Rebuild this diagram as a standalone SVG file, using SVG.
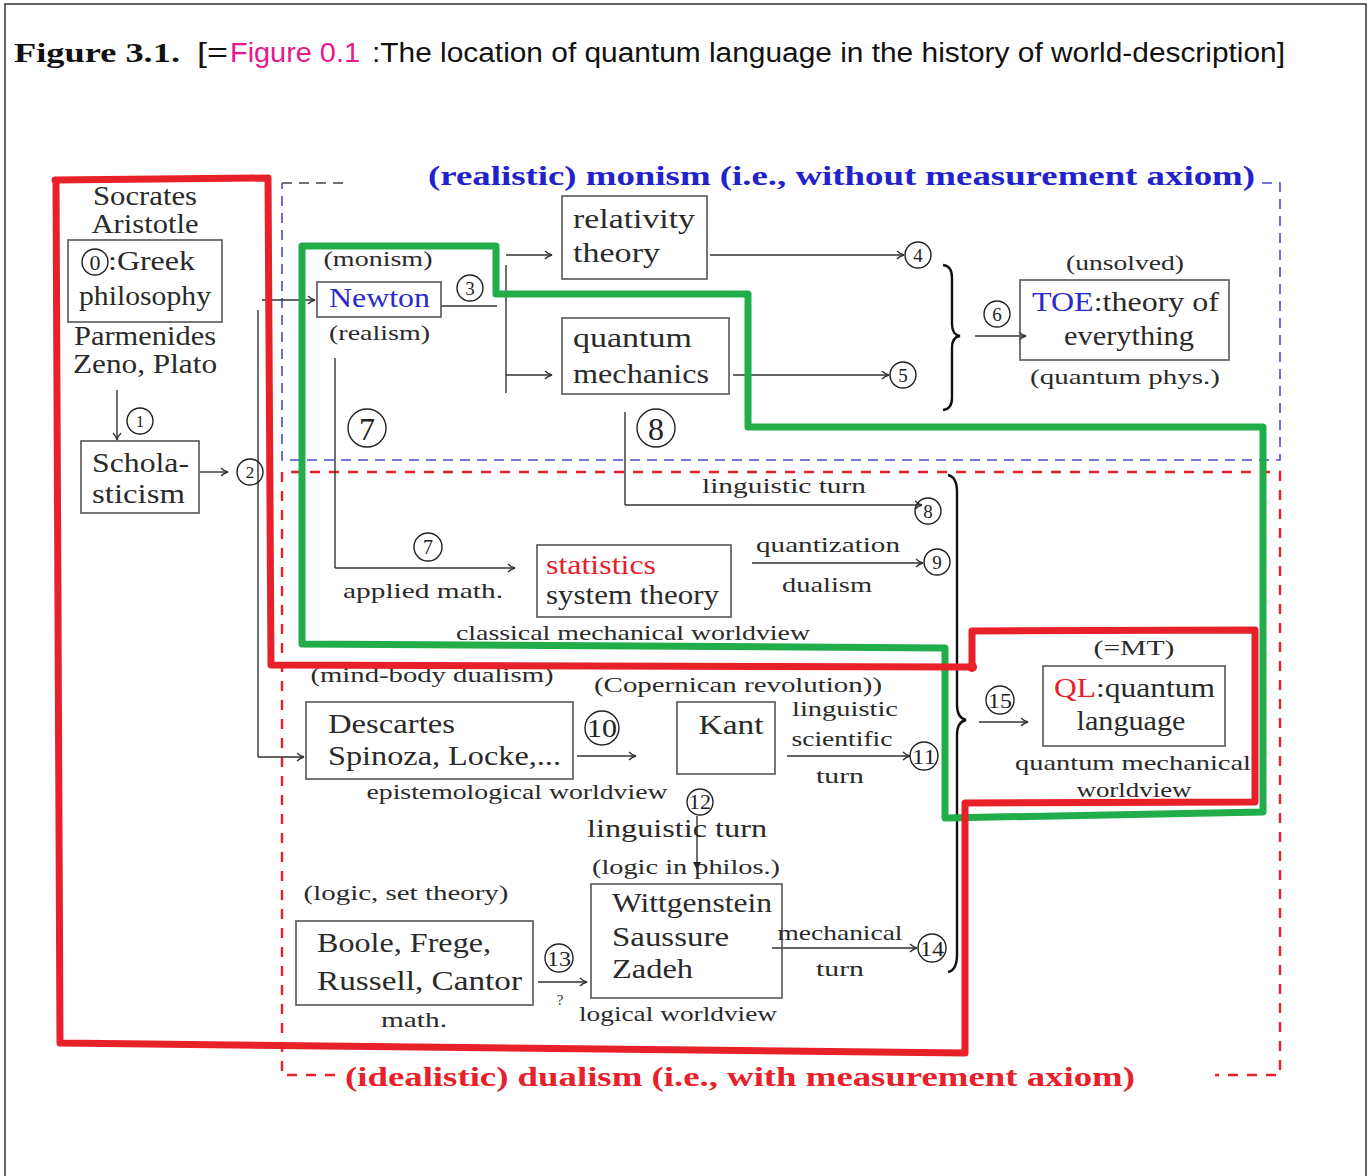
<svg xmlns="http://www.w3.org/2000/svg" width="1372" height="1176" viewBox="0 0 1372 1176">
<defs>
<style>
.t{font-family:"Liberation Serif","DejaVu Serif",serif;fill:#2a2a2a;}
.b{font-size:27px;}
.s{font-size:22px;}
.c{text-anchor:middle;}
.box{fill:none;stroke:#555;stroke-width:1.6;}
.ln{fill:none;stroke:#333;stroke-width:1.4;}
.ar{fill:none;stroke:#333;stroke-width:1.4;marker-end:url(#ah);}
.ci{fill:none;stroke:#222;stroke-width:1.4;}
.cn{font-family:"Liberation Serif","DejaVu Serif",serif;fill:#222;text-anchor:middle;}
.br{fill:none;stroke:#111;stroke-width:2.4;}
.hr{fill:none;stroke:#e8202a;stroke-width:7;stroke-linejoin:round;stroke-linecap:round;}
.hg{fill:none;stroke:#22ad4b;stroke-width:7;stroke-linejoin:round;stroke-linecap:round;}
</style>
<marker id="ah" markerWidth="10" markerHeight="10" refX="8" refY="5" orient="auto" markerUnits="userSpaceOnUse">
<path d="M1,1 Q4,4 8,5 Q4,6 1,9" fill="none" stroke="#333" stroke-width="1.3"/>
</marker>
<marker id="ahf" markerWidth="10" markerHeight="10" refX="8" refY="5" orient="auto" markerUnits="userSpaceOnUse">
<path d="M0,1 L8,5 L0,9 Z" fill="#222"/>
</marker>
</defs>
<rect x="0" y="0" width="1372" height="1176" fill="#fff"/>
<path d="M5,1176 V4 H1366 V1176" fill="none" stroke="#333" stroke-width="1.5"/>

<g id="title">
<text x="14" y="62" font-family="Liberation Serif,serif" font-weight="bold" font-size="28" fill="#111" textLength="166" lengthAdjust="spacingAndGlyphs">Figure 3.1.</text>
<text x="197" y="62" font-family="Liberation Sans,sans-serif" font-size="27" fill="#111" textLength="31" lengthAdjust="spacingAndGlyphs">[=</text>
<text x="230" y="62" font-family="Liberation Sans,sans-serif" font-size="27" fill="#e6198c" textLength="130" lengthAdjust="spacingAndGlyphs">Figure 0.1</text>
<text x="372" y="62" font-family="Liberation Sans,sans-serif" font-size="27" fill="#111" textLength="913" lengthAdjust="spacingAndGlyphs">:The location of quantum language in the history of world-description]</text>
</g>

<g id="region-monism">
<path d="M282,183 H345" fill="none" stroke="#444" stroke-width="1.6" stroke-dasharray="10,7"/>
<path d="M1262,183 H1280 V460 H282 V183" fill="none" stroke="#4a4ad0" stroke-width="1.6" stroke-dasharray="10,7"/>
<text x="428" y="185" font-family="Liberation Serif,serif" font-weight="bold" font-size="28" fill="#2222cc" textLength="827" lengthAdjust="spacingAndGlyphs">(realistic) monism (i.e., without measurement axiom)</text>
</g>

<g id="region-dualism">
<path d="M335,1075 H282 V472 H1280 V1075 H1215" fill="none" stroke="#e8202a" stroke-width="2.4" stroke-dasharray="10,9"/>
<text x="345" y="1086" font-family="Liberation Serif,serif" font-weight="bold" font-size="28" fill="#e8202a" textLength="790" lengthAdjust="spacingAndGlyphs">(idealistic) dualism (i.e., with measurement axiom)</text>
</g>

<g id="connectors">
<path class="ar" d="M117,390 V440"/>
<path class="ar" d="M200,472 H228"/>
<path class="ln" d="M258,310 V757"/>
<path class="ar" d="M262,300 H315"/>
<path class="ar" d="M258,757 H304"/>
<path class="ln" d="M441,306 H497"/>
<path class="ln" d="M506,265 V393"/>
<path class="ar" d="M506,255 H552"/>
<path class="ar" d="M506,375 H552"/>
<path class="ar" d="M710,255 H904"/>
<path class="ar" d="M733,375 H889"/>
<path class="br" d="M943,265 Q952,266 952,278 V324 Q952,335 960,336 Q952,337 952,348 V398 Q952,409 943,410"/>
<path class="ar" d="M975,336 H1026"/>
<path class="ln" d="M335,358 V568"/>
<path class="ar" d="M335,568 H515"/>
<path class="ln" d="M625,412 V505"/>
<path class="ar" d="M625,505 H922"/>
<path class="ar" d="M752,563 H923"/>
<path class="br" d="M948,475 Q957,477 957,492 V705 Q957,718 966,720 Q957,722 957,735 V955 Q957,970 948,972"/>
<path class="ar" d="M577,756 H636"/>
<path class="ar" d="M787,756 H910"/>
<path d="M697,816 V870" fill="none" stroke="#333" stroke-width="1.4" marker-end="url(#ahf)"/>
<path class="ar" d="M538,982 H587"/>
<path class="ar" d="M772,948 H917"/>
<path class="ar" d="M979,722 H1028"/>
</g>

<g id="greek-context">
<text class="t b c" x="145" y="205" textLength="104" lengthAdjust="spacingAndGlyphs">Socrates</text>
<text class="t b c" x="145" y="233" textLength="107" lengthAdjust="spacingAndGlyphs">Aristotle</text>
<text class="t b c" x="145" y="345" textLength="142" lengthAdjust="spacingAndGlyphs">Parmenides</text>
<text class="t b c" x="145" y="373" textLength="144" lengthAdjust="spacingAndGlyphs">Zeno, Plato</text>
</g>
<g id="node-greek">
<rect class="box" x="68" y="240" width="154" height="82"/>
<circle class="ci" cx="95" cy="262" r="13"/>
<text class="cn" x="95" y="270" font-size="22">0</text>
<text class="t b" x="108" y="270" textLength="87" lengthAdjust="spacingAndGlyphs">:Greek</text>
<text class="t b" x="79" y="305" textLength="132" lengthAdjust="spacingAndGlyphs">philosophy</text>
</g>
<g id="num1"><circle class="ci" cx="140" cy="421" r="13"/><text class="cn" x="140" y="427" font-size="16">1</text></g>
<g id="node-scholasticism">
<rect class="box" x="81" y="441" width="118" height="72"/>
<text class="t b" x="92" y="472" textLength="97" lengthAdjust="spacingAndGlyphs">Schola-</text>
<text class="t b" x="92" y="503" textLength="93" lengthAdjust="spacingAndGlyphs">sticism</text>
</g>
<g id="num2"><circle class="ci" cx="250" cy="472" r="13"/><text class="cn" x="250" y="478" font-size="17">2</text></g>

<g id="node-newton">
<text class="t s c" x="378" y="266" textLength="109" lengthAdjust="spacingAndGlyphs">(monism)</text>
<rect class="box" x="317" y="282" width="124" height="35"/>
<text class="t b" x="329" y="307" style="fill:#2a2acc" textLength="101" lengthAdjust="spacingAndGlyphs">Newton</text>
<text class="t s" x="329" y="340" textLength="101" lengthAdjust="spacingAndGlyphs">(realism)</text>
</g>
<g id="num3"><circle class="ci" cx="470" cy="288" r="13"/><text class="cn" x="470" y="295" font-size="19">3</text></g>

<g id="node-relativity">
<rect class="box" x="562" y="196" width="145" height="83"/>
<text class="t b" x="573" y="228" textLength="122" lengthAdjust="spacingAndGlyphs">relativity</text>
<text class="t b" x="573" y="262" textLength="87" lengthAdjust="spacingAndGlyphs">theory</text>
</g>
<g id="node-qm">
<rect class="box" x="562" y="318" width="167" height="76"/>
<text class="t b" x="573" y="347" textLength="119" lengthAdjust="spacingAndGlyphs">quantum</text>
<text class="t b" x="573" y="383" textLength="136" lengthAdjust="spacingAndGlyphs">mechanics</text>
</g>
<g id="num4"><circle class="ci" cx="918" cy="255" r="13"/><text class="cn" x="918" y="262" font-size="19">4</text></g>
<g id="num5"><circle class="ci" cx="903" cy="375" r="13"/><text class="cn" x="903" y="382" font-size="19">5</text></g>
<g id="num6"><circle class="ci" cx="997" cy="314" r="13"/><text class="cn" x="997" y="321" font-size="19">6</text></g>

<g id="node-toe">
<text class="t s c" x="1125" y="270" textLength="118" lengthAdjust="spacingAndGlyphs">(unsolved)</text>
<rect class="box" x="1020" y="280" width="209" height="80"/>
<text class="t b" x="1032" y="311" textLength="187" lengthAdjust="spacingAndGlyphs"><tspan style="fill:#2a2acc">TOE</tspan>:theory of</text>
<text class="t b" x="1064" y="345" textLength="130" lengthAdjust="spacingAndGlyphs">everything</text>
<text class="t s c" x="1125" y="384" textLength="190" lengthAdjust="spacingAndGlyphs">(quantum phys.)</text>
</g>

<g id="num7big"><circle class="ci" cx="367" cy="428" r="19"/><text class="cn" x="367" y="440" font-size="32">7</text></g>
<g id="num8big"><circle class="ci" cx="656" cy="428" r="19"/><text class="cn" x="656" y="440" font-size="32">8</text></g>
<g id="num7"><circle class="ci" cx="428" cy="547" r="14"/><text class="cn" x="428" y="554" font-size="20">7</text></g>
<text class="t s c" x="423" y="598" textLength="160" lengthAdjust="spacingAndGlyphs">applied math.</text>
<text class="t s c" x="784" y="493" textLength="164" lengthAdjust="spacingAndGlyphs">linguistic turn</text>
<g id="num8"><circle class="ci" cx="928" cy="511" r="13"/><text class="cn" x="928" y="518" font-size="19">8</text></g>

<g id="node-statistics">
<rect class="box" x="537" y="545" width="194" height="72"/>
<text class="t b" x="546" y="574" style="fill:#e8202a" textLength="110" lengthAdjust="spacingAndGlyphs">statistics</text>
<text class="t b" x="546" y="604" textLength="173" lengthAdjust="spacingAndGlyphs">system theory</text>
<text class="t s c" x="633" y="640" textLength="354" lengthAdjust="spacingAndGlyphs">classical mechanical worldview</text>
</g>
<text class="t s c" x="828" y="552" textLength="144" lengthAdjust="spacingAndGlyphs">quantization</text>
<text class="t s c" x="827" y="592" textLength="90" lengthAdjust="spacingAndGlyphs">dualism</text>
<g id="num9"><circle class="ci" cx="937" cy="562" r="13"/><text class="cn" x="937" y="569" font-size="19">9</text></g>

<g id="node-descartes">
<text class="t s c" x="432" y="682" textLength="243" lengthAdjust="spacingAndGlyphs">(mind-body dualism)</text>
<rect class="box" x="306" y="702" width="267" height="77"/>
<text class="t b" x="328" y="733" textLength="127" lengthAdjust="spacingAndGlyphs">Descartes</text>
<text class="t b" x="328" y="765" textLength="233" lengthAdjust="spacingAndGlyphs">Spinoza, Locke,...</text>
<text class="t s c" x="517" y="799" textLength="301" lengthAdjust="spacingAndGlyphs">epistemological worldview</text>
</g>
<g id="num10"><circle class="ci" cx="602" cy="728" r="17"/><text class="cn" x="602" y="737" font-size="25" textLength="30" lengthAdjust="spacingAndGlyphs">10</text></g>

<g id="node-kant">
<text class="t s c" x="738" y="692" textLength="288" lengthAdjust="spacingAndGlyphs">(Copernican revolution))</text>
<rect class="box" x="677" y="702" width="98" height="72"/>
<text class="t b c" x="731" y="734" textLength="65" lengthAdjust="spacingAndGlyphs">Kant</text>
</g>
<text class="t s c" x="845" y="716" textLength="106" lengthAdjust="spacingAndGlyphs">linguistic</text>
<text class="t s c" x="842" y="746" textLength="101" lengthAdjust="spacingAndGlyphs">scientific</text>
<text class="t s c" x="840" y="783" textLength="48" lengthAdjust="spacingAndGlyphs">turn</text>
<g id="num11"><circle class="ci" cx="924" cy="756" r="14"/><text class="cn" x="924" y="764" font-size="21" textLength="24" lengthAdjust="spacingAndGlyphs">11</text></g>

<g id="num12"><circle class="ci" cx="700" cy="802" r="13"/><text class="cn" x="700" y="809" font-size="20" textLength="22" lengthAdjust="spacingAndGlyphs">12</text></g>
<text class="t" x="587" y="837" font-size="25" textLength="180" lengthAdjust="spacingAndGlyphs">linguistic  turn</text>
<text class="t s c" x="686" y="874" textLength="188" lengthAdjust="spacingAndGlyphs">(logic in philos.)</text>

<g id="node-boole">
<text class="t s c" x="406" y="900" textLength="205" lengthAdjust="spacingAndGlyphs">(logic, set theory)</text>
<rect class="box" x="296" y="921" width="237" height="84"/>
<text class="t b" x="317" y="952" textLength="174" lengthAdjust="spacingAndGlyphs">Boole, Frege,</text>
<text class="t b" x="317" y="990" textLength="205" lengthAdjust="spacingAndGlyphs">Russell, Cantor</text>
<text class="t s c" x="414" y="1027" textLength="66" lengthAdjust="spacingAndGlyphs">math.</text>
</g>
<g id="num13"><circle class="ci" cx="559" cy="958" r="14"/><text class="cn" x="559" y="966" font-size="21" textLength="24" lengthAdjust="spacingAndGlyphs">13</text></g>
<text class="t c" x="560" y="1005" font-size="15">?</text>

<g id="node-wittgenstein">
<rect class="box" x="591" y="884" width="191" height="114"/>
<text class="t b" x="612" y="912" textLength="160" lengthAdjust="spacingAndGlyphs">Wittgenstein</text>
<text class="t b" x="612" y="946" textLength="117" lengthAdjust="spacingAndGlyphs">Saussure</text>
<text class="t b" x="612" y="978" textLength="81" lengthAdjust="spacingAndGlyphs">Zadeh</text>
<text class="t s c" x="678" y="1021" textLength="198" lengthAdjust="spacingAndGlyphs">logical worldview</text>
</g>
<text class="t s c" x="840" y="940" textLength="125" lengthAdjust="spacingAndGlyphs">mechanical</text>
<text class="t s c" x="840" y="976" textLength="48" lengthAdjust="spacingAndGlyphs">turn</text>
<g id="num14"><circle class="ci" cx="932" cy="948" r="14"/><text class="cn" x="932" y="956" font-size="21" textLength="24" lengthAdjust="spacingAndGlyphs">14</text></g>

<g id="num15"><circle class="ci" cx="1000" cy="700" r="14"/><text class="cn" x="1000" y="708" font-size="21" textLength="24" lengthAdjust="spacingAndGlyphs">15</text></g>
<g id="node-ql">
<text class="t s c" x="1134" y="655" textLength="81" lengthAdjust="spacingAndGlyphs">(=MT)</text>
<rect class="box" x="1043" y="666" width="182" height="80"/>
<text class="t b" x="1054" y="697" textLength="161" lengthAdjust="spacingAndGlyphs"><tspan style="fill:#e8202a">QL</tspan>:quantum</text>
<text class="t b c" x="1131" y="730" textLength="109" lengthAdjust="spacingAndGlyphs">language</text>
<text class="t s c" x="1133" y="770" textLength="236" lengthAdjust="spacingAndGlyphs">quantum mechanical</text>
<text class="t s c" x="1134" y="797" textLength="115" lengthAdjust="spacingAndGlyphs">worldview</text>
</g>

<g id="highlight-green">
<path class="hg" d="M302,246 H496 V294 H748 V427 H1263 V812 L945,818 V648 L302,644 Z"/>
</g>
<g id="highlight-red">
<path class="hr" d="M55,180 L268,178 L271,665 L972,667 V631 L1255,630 V802 L965,803 V1053 L60,1043 L56,180 Z"/>
<circle cx="972" cy="667" r="5" fill="#e8202a"/>
</g>
</svg>
